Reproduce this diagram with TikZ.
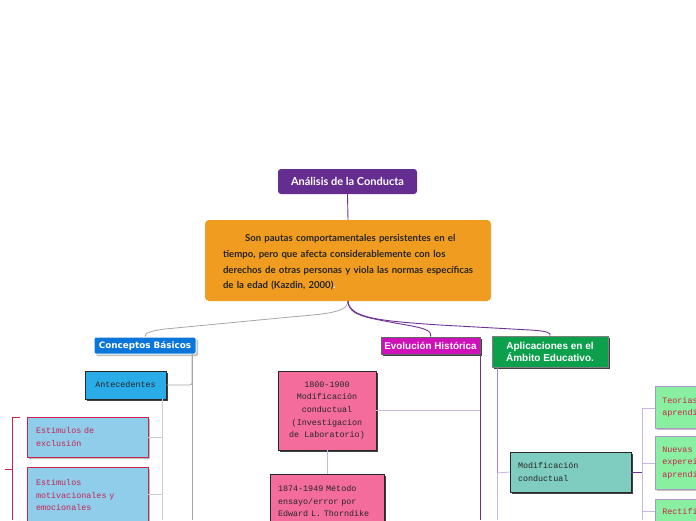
\documentclass[tikz,border=0pt]{standalone}
\usepackage{fontspec}
\setmainfont{Lato}
\newfontfamily\dvs{DejaVu Sans}
\newfontfamily\arl{Liberation Sans}
\newfontfamily\mono{Liberation Mono}
\usetikzlibrary{shadows}
\definecolor{titlepurple}{RGB}{102,45,145}
\definecolor{orangebox}{RGB}{240,156,32}
\definecolor{cbblue}{RGB}{11,118,218}
\definecolor{evmag}{RGB}{208,16,184}
\definecolor{apgreen}{RGB}{12,160,76}
\definecolor{antblue}{RGB}{42,172,233}
\definecolor{estblue}{RGB}{143,205,235}
\definecolor{estred}{RGB}{200,36,80}
\definecolor{pinkbox}{RGB}{244,108,155}
\definecolor{tealbox}{RGB}{126,205,192}
\definecolor{lgreen}{RGB}{136,240,160}
\definecolor{lgborder}{RGB}{170,150,200}
\definecolor{linepurple}{RGB}{110,50,150}
\definecolor{midpurple}{RGB}{160,130,200}
\definecolor{lightpurple}{RGB}{200,182,222}
\definecolor{darkline}{RGB}{40,40,40}
\tikzset{
  darkshadow/.style={general shadow={fill=black!75,shadow xshift=2pt,shadow yshift=-2pt}},
  lightshadow/.style={general shadow={fill=black!25,shadow xshift=2pt,shadow yshift=-2pt}},
  titlebox/.style={fill=titlepurple,rounded corners=3pt,text=white,font=\bfseries\fontsize{11}{13}\selectfont,minimum width=139pt,minimum height=25pt,inner sep=0pt},
  orbox/.style={fill=orangebox,rounded corners=4pt,minimum width=286pt,minimum height=81pt,inner sep=0pt},
  ortext/.style={inner sep=0pt,text width=264pt,text=black!85,font=\bfseries\fontsize{9.6}{15.7}\selectfont,align=left},
  cbbox/.style={fill=cbblue,draw=white,line width=1pt,rounded corners=1.5pt,text=white,font=\dvs\bfseries\fontsize{8.8}{10}\selectfont,minimum width=102pt,minimum height=17pt,inner sep=0pt,lightshadow},
  evbox/.style={fill=evmag,draw=black!60,line width=0.6pt,text=white,font=\arl\bfseries\fontsize{9.9}{11}\selectfont,minimum width=99pt,minimum height=17pt,inner sep=0pt,darkshadow},
  apbox/.style={fill=apgreen,draw=black!50,line width=0.6pt,text=white,font=\arl\bfseries\fontsize{10}{12}\selectfont,minimum width=116pt,minimum height=31pt,inner sep=0pt,align=center,darkshadow},
  monobox/.style={font=\mono\fontsize{8.4}{12.7}\selectfont,inner sep=0pt,text=black!85},
  antbox/.style={monobox,fill=antblue,draw=darkline,line width=0.6pt,minimum width=81pt,minimum height=28pt,darkshadow},
  estbox/.style={monobox,fill=estblue,draw=estred,line width=0.6pt,text=estred,minimum width=121pt,inner xsep=9pt,text width=103pt,align=left,lightshadow},
  pkbox/.style={monobox,fill=pinkbox,draw=darkline,line width=0.6pt,darkshadow},
  tlbox/.style={monobox,fill=tealbox,draw=darkline,line width=0.6pt,minimum width=121pt,minimum height=40pt,inner xsep=8pt,text width=105pt,align=left,darkshadow},
  lgbox/.style={monobox,fill=lgreen,draw=lgborder,line width=0.6pt,text=estred,minimum width=100pt,inner xsep=7pt,text width=86pt,align=left,lightshadow},
  grayline/.style={draw=black!35,line width=0.8pt},
  lgrayline/.style={draw=black!20,line width=0.8pt},
  pline/.style={draw=linepurple,line width=0.9pt},
  mline/.style={draw=midpurple,line width=0.9pt},
  lpline/.style={draw=lightpurple,line width=0.9pt}
}
\begin{document}
\begin{tikzpicture}[x=1pt,y=-1pt]
\useasboundingbox (0,0) rectangle (696,520);
\clip (0,0) rectangle (696,520);
% nodes
\node[titlebox] (title) at (347.5,181.5) {Análisis de la Conducta};
\node[orbox] (def) at (348,260.5) {};
\node[ortext,anchor=west] (deftext) at ([xshift=18pt,yshift=-2pt]def.west) {\hspace*{22pt}Son pautas comportamentales persistentes en el\\tiempo, pero que afecta considerablemente con los\\derechos de otras personas y viola las normas específicas\\de la edad (Kazdin, 2000)\textcolor{white}{.}};
\node[cbbox] (cb) at (145,345.5) {Conceptos Básicos};
\node[evbox] (ev) at (430.5,345.5) {Evolución Histórica};
\node[apbox] (ap) at (550,351.5) {Aplicaciones en el\\Ámbito Educativo.};
\node[antbox] (ant) at (125.5,385) {Antecedentes};
\node[estbox,minimum height=40pt] (ex) at (87.5,437) {Estimulos de\\exclusión};
\node[estbox,minimum height=56pt] (mo) at (87.5,495) {Estimulos\\motivacionales y\\emocionales};
\node[pkbox,minimum width=98pt,minimum height=79pt,align=center] (h1) at (327,410.5) {1800-1900\\Modificación\\conductual\\(Investigacion\\de Laboratorio)};
\node[pkbox,minimum width=114pt,minimum height=54pt,inner xsep=8pt,text width=98pt,align=left,anchor=north] (h2) at (327,474) {1874-1949 Método\\ensayo/error por\\Edward L. Thorndike};
\node[tlbox] (mc) at (570.5,472) {Modificación\\conductual};
\node[lgbox,minimum height=42pt,anchor=north west] (t1) at (655,386) {Teorias del\\aprendizaje};
\node[lgbox,minimum height=53pt,anchor=north west] (t2) at (655,436) {Nuevas\\expereincias de\\aprendizaje};
\node[lgbox,minimum height=24pt,anchor=north west] (t3) at (655,499) {Rectificación};
% coordinates
\coordinate (c1) at (192,354);
\coordinate (c2) at (192,520);
\coordinate (a1) at (162,399);
\coordinate (a2) at (162,520);
\coordinate (e1) at (480,354);
\coordinate (e2) at (480,520);
\coordinate (p1) at (497,367);
\coordinate (p2) at (497,473);
\coordinate (p3) at (497,520);
\coordinate (m1) at (642,472);
\coordinate (m2) at (642,408);
\coordinate (m3) at (642,520);
\coordinate (o) at (348,301);
% connectors
\draw[pline] (title.south) -- (def.north);
\draw[grayline] (o) .. controls (348,314) and (320,314) .. (280,318) -- (165,329) .. controls (150,331) and (145,333) .. (cb.north);
\draw[pline] (o) .. controls (348,316) and (370,318) .. (395,323) .. controls (425,328) and (432,330) .. (ev.north);
\draw[pline] (o) .. controls (349,318) and (380,321) .. (440,325) -- (530,330) .. controls (548,331) and (551,333) .. (ap.north);
\draw[grayline] (c1) -- (c2);
\draw[grayline,rounded corners=2pt] (ant.east) -| (c1);
\draw[lgrayline] (a1) -- (a2);
\draw[lgrayline] (ex.east) -- (ex.east -| a1);
\draw[lgrayline] (mo.east |- 0,494) -- (162,494);
\draw[pline] (e1) -- (e2);
\draw[lpline] (h1.east) -- (h1.east -| e1);
\draw[lpline] (h1.south) -- (h2.north);
\draw[mline] (p1) -- (p2);
\draw[lpline] (p2) -- (p3);
\draw[lpline] (p2) -- (mc.west);
\draw[pline] (mc.east) -- (m1);
\draw[lpline] (m2) -- (m3);
\draw[lpline] (m2) -- (m2 -| t1.west);
\draw[lpline] (t2.west |- 0,463) -- (642,463);
\draw[lpline] (t3.west |- 0,511) -- (642,511);
% red bracket
\draw[draw=estred,line width=0.9pt] (20,417) -- (12,417) -- (12,520);
\draw[draw=estred,line width=0.9pt] (5,469) -- (12,469);
\end{tikzpicture}
\end{document}
